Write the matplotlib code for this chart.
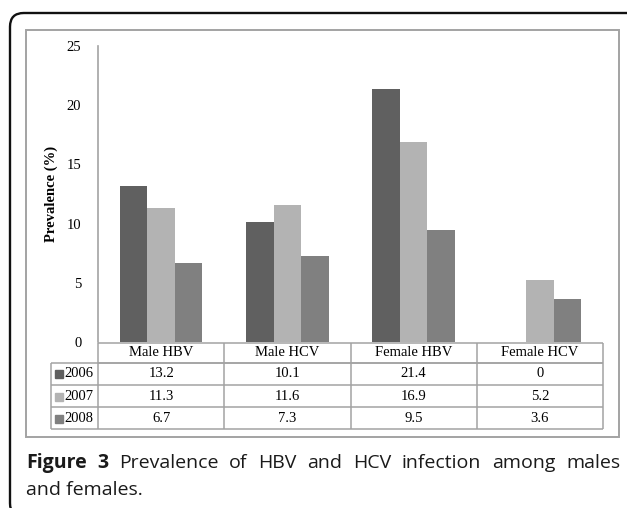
import numpy as np
import matplotlib.pyplot as plt
from matplotlib.patches import FancyBboxPatch, Rectangle

# data
categories = ['Male HBV', 'Male HCV', 'Female HBV', 'Female HCV']
years = ['2006', '2007', '2008']
prev_2006 = [13.2, 10.1, 21.4, 0]
prev_2007 = [11.3, 11.6, 16.9, 5.2]
prev_2008 = [6.7, 7.3, 9.5, 3.6]
series = [prev_2006, prev_2007, prev_2008]
colors = ['#606060', '#b3b3b3', '#808080']
yticks = [0, 5, 10, 15, 20, 25]

W, H = 627, 508
fig = plt.figure(figsize=(W / 100, H / 100), dpi=100)

def fx(px):
    return px / W

def fy(py):
    return 1 - py / H

serif = 'Liberation Serif'
grid_col = '#a3a3a3'

# outer black frame (rounded corners, mostly off-canvas on right/bottom)
frame = FancyBboxPatch((fx(10), fy(517)), fx(643) - fx(10), fy(13) - fy(517),
                       boxstyle='round,pad=0,rounding_size=0.022',
                       transform=fig.transFigure, fill=False,
                       edgecolor='#111111', lw=1.7, mutation_aspect=W / H)
fig.patches.append(frame)

# inner gray chart box
box = Rectangle((fx(26), fy(437)), fx(619) - fx(26), fy(30) - fy(437),
                transform=fig.transFigure, fill=False, edgecolor=grid_col, lw=1.4)
fig.patches.append(box)

# bar axes
ax = fig.add_axes([fx(98), fy(342), fx(603) - fx(98), fy(46) - fy(342)])
x = np.arange(len(categories))
bw = 0.218
for i, vals in enumerate(series):
    ax.bar(x + (i - 1) * bw, vals, width=bw, color=colors[i], edgecolor='none')
ax.set_xlim(-0.5, len(categories) - 0.5)
ax.set_ylim(0, 25)
ax.set_yticks(yticks)
ax.set_yticklabels([str(t) for t in yticks], fontfamily=serif, fontsize=10.5)
ax.tick_params(axis='y', length=0, pad=12)
ax.set_xticks([])
for s in ['top', 'right', 'bottom']:
    ax.spines[s].set_visible(False)
ax.spines['left'].set_color(grid_col)
ax.spines['left'].set_linewidth(1.2)
ax.set_ylabel('Prevalence (%)', fontfamily=serif, fontweight='bold', fontsize=10.5, labelpad=6)
ax.patch.set_alpha(0)

# data table under the chart
lab_w = (98 - 51) / ((603 - 98) / len(categories))
tax = fig.add_axes([fx(51), fy(429), fx(603) - fx(51), fy(343) - fy(429)])
tax.set_xlim(-0.5 - lab_w, len(categories) - 0.5)
tax.set_ylim(429, 343)
tax.axis('off')
rows = [343, 363, 385, 407, 429]
col_edges = np.arange(len(categories) + 1) - 0.5
lk = dict(color=grid_col, lw=1.1, clip_on=False)
tax.hlines(rows[:2], -0.5, len(categories) - 0.5, **lk)
tax.hlines(rows[1:], -0.5 - lab_w, len(categories) - 0.5, **lk)
tax.vlines(col_edges, rows[0], rows[-1], **lk)
tax.vlines([-0.5 - lab_w], rows[1], rows[-1], **lk)

tk = dict(fontfamily=serif, fontsize=10.5, ha='center', va='center')
for j, c in enumerate(categories):
    tax.text(j, (rows[0] + rows[1]) / 2, c, **tk)
for i, vals in enumerate(series):
    yc = (rows[i + 1] + rows[i + 2]) / 2
    for j, v in enumerate(vals):
        tax.text(j, yc, f'{v:g}', **tk)
    tax.plot([-0.5 - lab_w + 0.065], [yc + 0.5], marker='s', ms=5.5,
             color=colors[i], clip_on=False)
    tax.text(-0.5 - lab_w + 0.105, yc, years[i], fontfamily=serif, fontsize=10.5,
             ha='left', va='center')

# caption, justified first line
cap_fs = 14
words1 = [('Figure', 'bold'), ('3', 'bold'), ('Prevalence', 'normal'), ('of', 'normal'),
          ('HBV', 'normal'), ('and', 'normal'), ('HCV', 'normal'), ('infection', 'normal'),
          ('among', 'normal'), ('males', 'normal')]
left, right = 26, 620
renderer = fig.canvas.get_renderer()
objs = []
for w, wt in words1:
    t = fig.text(0, fy(463), w, fontfamily='Open Sans', fontweight=wt, fontsize=cap_fs,
                 ha='left', va='center', color='#1a1a1a')
    objs.append(t)
widths = [t.get_window_extent(renderer).width for t in objs]
gap = max(3, (right - left - sum(widths)) / (len(objs) - 1))
pos = left
for t, wd in zip(objs, widths):
    t.set_x(fx(pos))
    pos += wd + gap
fig.text(fx(left), fy(490), 'and females.', fontfamily='Open Sans', fontsize=cap_fs,
         ha='left', va='center', color='#1a1a1a')

fig.savefig('out.png', dpi=100)
